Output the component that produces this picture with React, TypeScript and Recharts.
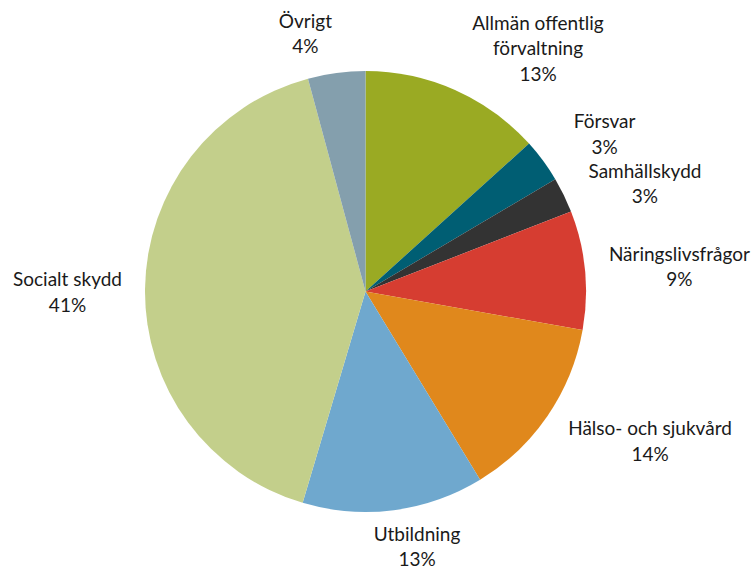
import { PieChart, Pie, Cell } from 'recharts';

// category names, clockwise from 12 o'clock
const CATEGORIES = [
  'Allmän offentlig förvaltning',
  'Försvar',
  'Samhällskydd',
  'Näringslivsfrågor',
  'Hälso- och sjukvård',
  'Utbildning',
  'Socialt skydd',
  'Övrigt',
];

// share of spending (%)
const VALUES = [13.3, 3.2, 2.6, 8.7, 13.5, 13.3, 41.2, 4.2];

const COLORS = ['#9AAA23', '#005E73', '#333333', '#D63D31', '#E0881C', '#6FA8CE', '#C3CF8B', '#849FAD'];

// label placement: distance from centre and angle nudge (deg) vs slice middle
const LABEL_POS: Record<string, { r: number; da: number }> = {
  'Allmän offentlig förvaltning': { r: 299, da: 11.3 },
  'Försvar': { r: 287, da: 2.8 },
  'Samhällskydd': { r: 300, da: 4.6 },
  'Näringslivsfrågor': { r: 315, da: 0.8 },
  'Hälso- och sjukvård': { r: 321, da: -6.8 },
  'Utbildning': { r: 259, da: -4.1 },
  'Socialt skydd': { r: 298, da: -0.6 },
  'Övrigt': { r: 266, da: -5.5 },
};

const data = CATEGORIES.map((name, i) => ({ name, value: VALUES[i] }));

const LINE_H = 25.5;

function splitName(name: string) {
  if (name.length <= 22) return [name];
  const idx = name.lastIndexOf(' ');
  return [name.slice(0, idx), name.slice(idx + 1)];
}

const renderLabel = (props: any) => {
  const { cx, cy, midAngle, percent, name } = props;
  const pos = LABEL_POS[name] || { r: 290, da: 0 };
  // recharts angle is counter-clockwise from 3 o'clock; convert to clockwise from north
  const theta = ((90 - midAngle + pos.da) * Math.PI) / 180;
  const x = cx + pos.r * Math.sin(theta);
  const y = cy - pos.r * Math.cos(theta);
  const lines = [...splitName(name), `${Math.round(percent * 100)}%`];
  const y0 = y - ((lines.length - 1) / 2) * LINE_H;
  return (
    <text
      x={x}
      y={y0}
      textAnchor="middle"
      dominantBaseline="central"
      fill="#1a1a1a"
      fontSize={19}
      fontFamily="Lato, 'Open Sans', sans-serif"
    >
      {lines.map((l, i) => (
        <tspan key={i} x={x} y={y0 + i * LINE_H}>
          {l}
        </tspan>
      ))}
    </text>
  );
};

export default function App() {
  return (
    <div style={{ position: 'absolute', left: 0, top: 0, width: 755, height: 568, background: '#fff' }}>
      <PieChart width={755} height={568} margin={{ top: 0, right: 0, bottom: 0, left: 0 }}>
        <Pie
          data={data}
          dataKey="value"
          nameKey="name"
          cx={365.5}
          cy={291.5}
          outerRadius={220.5}
          startAngle={90}
          endAngle={-270}
          stroke="none"
          label={renderLabel}
          labelLine={false}
          isAnimationActive={false}
        >
          {data.map((entry, index) => (
            <Cell key={`cell-${index}`} fill={COLORS[index]} />
          ))}
        </Pie>
      </PieChart>
    </div>
  );
}
